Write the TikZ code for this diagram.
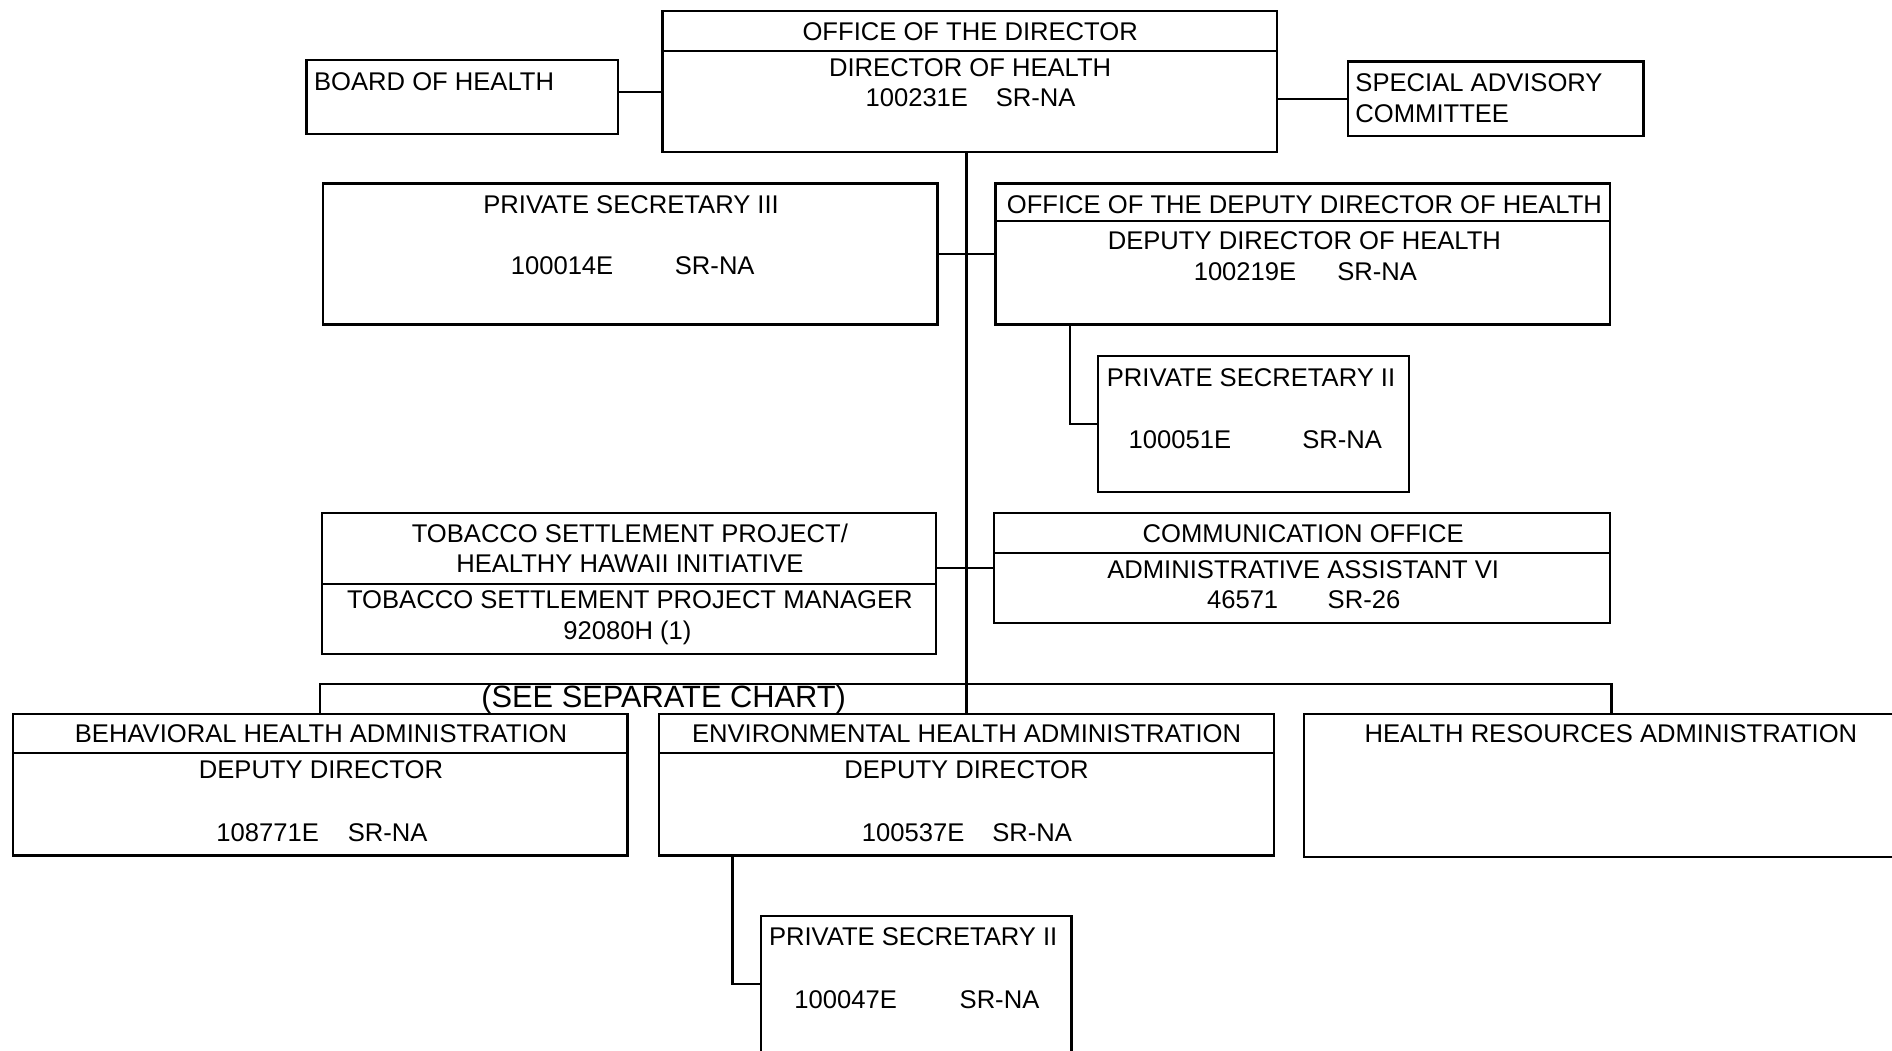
\documentclass[tikz,border=0pt]{standalone}
\usepackage{fontspec}
\setmainfont{Liberation Sans}
\newcommand\pxu{0.6033pt}
\begin{document}
\begin{tikzpicture}[x=0.6033pt, y=-0.6033pt,
  box/.style={draw, line width=1.1pt, inner sep=0pt, outer sep=0pt, anchor=north west},
  wire/.style={line width=1.1pt},
  txt/.style={inner sep=0pt, anchor=base, yshift=-4.58pt, font=\fontsize{12.8}{15}\selectfont},
  txtl/.style={txt, anchor=base west},
  big/.style={inner sep=0pt, anchor=base, yshift=-5.5pt, font=\fontsize{15.4}{18}\selectfont}]
\useasboundingbox (0,0) rectangle (1568,871);

% boxes
\node[box, minimum width=509*\pxu, minimum height=117*\pxu] (dir)   at (549,9)   {};
\node[box, minimum width=258*\pxu, minimum height=61*\pxu]  (board) at (254,50)  {};
\node[box, minimum width=245*\pxu, minimum height=62*\pxu]  (spec)  at (1117,51) {};
\node[box, minimum width=509*\pxu, minimum height=117*\pxu] (ps3)   at (268,152) {};
\node[box, minimum width=509*\pxu, minimum height=117*\pxu] (dep)   at (825,152) {};
\node[box, minimum width=258*\pxu, minimum height=113*\pxu] (ps2a)  at (910,295) {};
\node[box, minimum width=509*\pxu, minimum height=117*\pxu] (tob)   at (267,425) {};
\node[box, minimum width=510*\pxu, minimum height=91*\pxu]  (comm)  at (824,425) {};
\node[box, minimum width=509*\pxu, minimum height=117*\pxu] (beh)   at (11,592)  {};
\node[box, minimum width=510*\pxu, minimum height=117*\pxu] (env)   at (546,592) {};
\node[box, minimum width=509*\pxu, minimum height=118*\pxu] (hr)    at (1081,592) {};
\node[box, minimum width=257*\pxu, minimum height=113*\pxu] (ps2b)  at (631,759) {};

% title dividers
\draw[wire] (dir.north west)  ++(0,33) -- ++(509,0);
\draw[wire] (dep.north west)  ++(0,31) -- ++(509,0);
\draw[wire] (tob.north west)  ++(0,59) -- ++(509,0);
\draw[wire] (comm.north west) ++(0,33) -- ++(510,0);
\draw[wire] (beh.north west)  ++(0,32) -- ++(509,0);
\draw[wire] (env.north west)  ++(0,32) -- ++(510,0);

% texts
\node[txt]  (d1) at (804,26) {OFFICE OF THE DIRECTOR};
\node[txt]  (d2) at (804,56) {DIRECTOR OF HEALTH};
\node[txtl] (d3) at (717,81) {100231E};
\node[txtl] (d4) at (825,81) {SR-NA};

\node[txtl] (b1) at (260,67) {BOARD OF HEALTH};
\node[txtl] (s1) at (1123,68) {SPECIAL ADVISORY};
\node[txtl] (s2) at (1123,94) {COMMITTEE};

\node[txt]  (p1) at (523,169) {PRIVATE SECRETARY III};
\node[txtl] (p2) at (423,220) {100014E};
\node[txtl] (p3) at (559,220) {SR-NA};

\node[txt]  (e1) at (1081,169) {OFFICE OF THE DEPUTY DIRECTOR OF HEALTH};
\node[txt]  (e2) at (1081,199) {DEPUTY DIRECTOR OF HEALTH};
\node[txtl] (e3) at (989,225) {100219E};
\node[txtl] (e4) at (1108,225) {SR-NA};

\node[txtl] (q1) at (917,313) {PRIVATE SECRETARY II};
\node[txtl] (q2) at (935,364) {100051E};
\node[txtl] (q3) at (1079,364) {SR-NA};

\node[txt]  (t1) at (522,442) {TOBACCO SETTLEMENT PROJECT/};
\node[txt]  (t2) at (522,467) {HEALTHY HAWAII INITIATIVE};
\node[txt]  (t3) at (522,497) {TOBACCO SETTLEMENT PROJECT MANAGER};
\node[txt]  (t4) at (520,522) {92080H (1)};

\node[txt]  (c1) at (1080,442) {COMMUNICATION OFFICE};
\node[txt]  (c2) at (1080,472) {ADMINISTRATIVE ASSISTANT VI};
\node[txtl] (c3) at (1000,497) {46571};
\node[txtl] (c4) at (1100,497) {SR-26};

\node[big]  (sep) at (550,577) {(SEE SEPARATE CHART)};

\node[txt]  (h1) at (266,608) {BEHAVIORAL HEALTH ADMINISTRATION};
\node[txt]  (h2) at (266,638) {DEPUTY DIRECTOR};
\node[txtl] (h3) at (179,690) {108771E};
\node[txtl] (h4) at (288,690) {SR-NA};

\node[txt]  (v1) at (801,608) {ENVIRONMENTAL HEALTH ADMINISTRATION};
\node[txt]  (v2) at (801,638) {DEPUTY DIRECTOR};
\node[txtl] (v3) at (714,690) {100537E};
\node[txtl] (v4) at (822,690) {SR-NA};

\node[txt]  (r1) at (1335,608) {HEALTH RESOURCES ADMINISTRATION};

\node[txtl] (w1) at (637,776) {PRIVATE SECRETARY II};
\node[txtl] (w2) at (658,828) {100047E};
\node[txtl] (w3) at (795,828) {SR-NA};

% connectors
\draw[wire] (board.east |- 0,76) -- (dir.west |- 0,76);
\draw[wire] (spec.west) -- (spec.west -| dir.east);
\draw[wire] (dir.south -| env.north) -- (env.north);
\draw[wire] (ps3.east) -- (dep.west);
\draw[wire] (dep.south west) ++(62,0) |- (ps2a.west);
\draw[wire] (comm.west) -- (comm.west -| tob.east);
\draw[wire] (beh.north) -- ++(0,-25) -| (hr.north);
\draw[wire] (env.south west) ++(61,0) |- (ps2b.west);
\end{tikzpicture}
\end{document}
